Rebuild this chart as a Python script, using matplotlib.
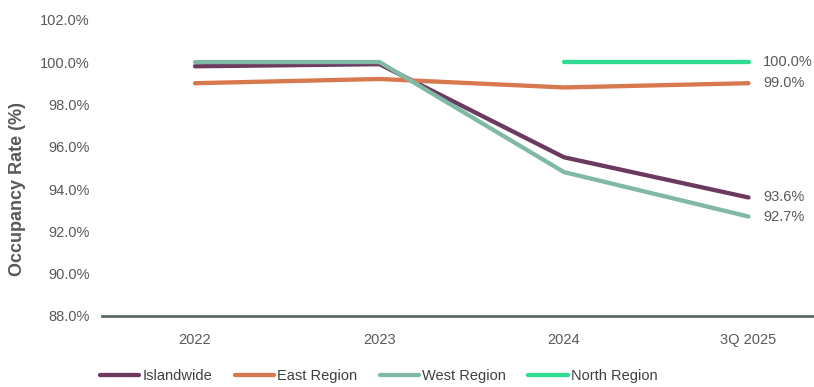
import matplotlib
matplotlib.use('Agg')
import matplotlib.pyplot as plt
from matplotlib.ticker import FuncFormatter

plt.rcParams['font.family'] = ['Liberation Sans', 'DejaVu Sans']

# data
periods = ['2022', '2023', '2024', '3Q 2025']
islandwide = [99.8, 99.9, 95.5, 93.6]
east = [99.0, 99.2, 98.8, 99.0]
west = [100.0, 100.0, 94.8, 92.7]
north = [None, None, 100.0, 100.0]

series = [
    ('Islandwide', islandwide, '#6d3a5f'),
    ('East Region', east, '#d8784f'),
    ('West Region', west, '#80b9a6'),
    ('North Region', north, '#2fdc91'),
]

fig = plt.figure(figsize=(8.14, 3.87), dpi=100)
ax = fig.add_axes([0.1253, 0.1835, 0.8747, 0.7655])

x = list(range(len(periods)))
for name, vals, col in series:
    xs = [i for i, v in zip(x, vals) if v is not None]
    ys = [v for v in vals if v is not None]
    ax.plot(xs, ys, color=col, lw=3.1, label=name, solid_capstyle='round')

# end labels for the last period
for name, vals, col in series:
    ax.text(3.08, vals[-1], f'{vals[-1]:.1f}%', color='#595959', fontsize=10.5,
            va='center', ha='left')

ax.set_xlim(-0.504, 3.355)
ax.set_ylim(88, 102)
ax.set_yticks([88, 90, 92, 94, 96, 98, 100, 102])
ax.yaxis.set_major_formatter(FuncFormatter(lambda v, p: f'{v:.1f}%'))
ax.set_xticks(x)
ax.set_xticklabels(periods)
ax.tick_params(axis='both', length=0, labelsize=10.5, colors='#595959')
ax.tick_params(axis='x', pad=12)
ax.tick_params(axis='y', pad=9)

for s in ['top', 'right', 'left']:
    ax.spines[s].set_visible(False)
ax.spines['bottom'].set_color('#5d6b66')
ax.spines['bottom'].set_linewidth(2)

ax.set_ylabel('Occupancy Rate (%)', fontsize=13, fontweight='bold', color='#595959')
ax.yaxis.set_label_coords(-0.107, 0.43)

fig.legend(loc='center left', bbox_to_anchor=(100 / 814, 1 - 376 / 387), ncol=4,
           frameon=False, fontsize=10.5, handlelength=2.7, handletextpad=0.2,
           columnspacing=1.55, labelcolor='#404040', borderaxespad=0, borderpad=0)

fig.savefig('out.png', dpi=100, facecolor='white')
